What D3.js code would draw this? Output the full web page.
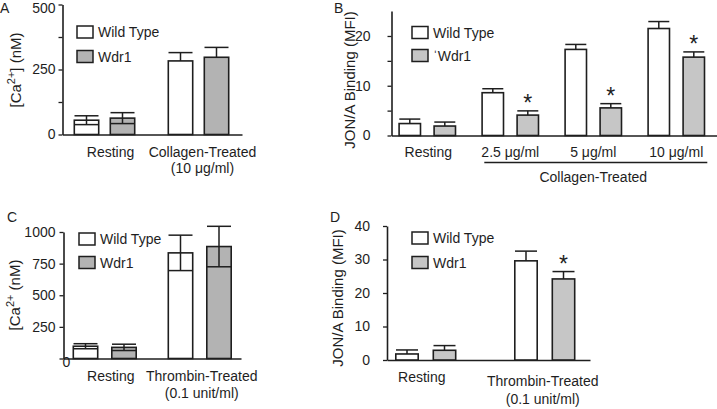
<!DOCTYPE html>
<html><head><meta charset="utf-8">
<script src="https://cdn.jsdelivr.net/npm/d3@7"></script>
<style>
html,body{margin:0;padding:0;background:#fff;}
svg{display:block;font-family:"Liberation Sans",Arial,sans-serif;}
</style></head><body>
<svg id="chart" width="717" height="409"></svg>
<script>
// ---------------- DATA ----------------
const seriesKeys = ["wt", "wdr1"];
const legendA = ["Wild Type", "Wdr1"];
const legendB = ["Wild Type", "ˈWdr1"];

// Panel A : [Ca2+] (nM), collagen
const categoriesA = ["Resting", "Collagen-Treated"];
const subLabelsA = ["", "(10 μg/ml)"];
const wildTypeA = [55, 283];
const wildTypeErrA = [17, 32];
const wdr1A = [63, 297];
const wdr1ErrA = [21, 38];
const lowerWhiskerA = [true, false];
const sigA = [false, false];
const yTicksA = [0, 125, 250, 375, 500];
const yLabelTicksA = [0, 250, 500];

// Panel B : JON/A binding (MFI), collagen doses
const categoriesB = ["Resting", "2.5 μg/ml", "5 μg/ml", "10 μg/ml"];
const wildTypeB = [2.4, 8.6, 17.3, 21.5];
const wildTypeErrB = [0.9, 0.8, 1.0, 1.4];
const wdr1B = [1.9, 4.1, 5.55, 15.75];
const wdr1ErrB = [0.8, 0.85, 0.85, 1.05];
const lowerWhiskerB = [false, false, false, false];
const sigB = [false, true, true, true];
const yTicksB = [0, 5, 10, 15, 20];
const yLabelTicksB = [0, 10, 20];
const groupLabelB = "Collagen-Treated";

// Panel C : [Ca2+] (nM), thrombin
const categoriesC = ["Resting", "Thrombin-Treated"];
const subLabelsC = ["", "(0.1 unit/ml)"];
const wildTypeC = [97, 835];
const wildTypeErrC = [20, 140];
const wdr1C = [88, 885];
const wdr1ErrC = [25, 160];
const lowerWhiskerC = [true, true];
const sigC = [false, false];
const yTicksC = [0, 250, 500, 750, 1000];
const yLabelTicksC = [0, 250, 500, 750, 1000];

// Panel D : JON/A binding (MFI), thrombin
const categoriesD = ["Resting", "Thrombin-Treated"];
const subLabelsD = ["", "(0.1 unit/ml)"];
const wildTypeD = [1.8, 29.6];
const wildTypeErrD = [1.2, 2.9];
const wdr1D = [2.9, 24.2];
const wdr1ErrD = [1.4, 2.2];
const lowerWhiskerD = [false, false];
const sigD = [false, true];
const yTicksD = [0, 10, 20, 30, 40];
const yLabelTicksD = [0, 10, 20, 30, 40];

// ---------------- DRAWING ----------------
const svg = d3.select("#chart");
const INK = "#1e1e1e";
const FONT = 14;

function drawPanel(c) {
  const g = svg.append("g");
  const y = d3.scaleLinear().domain(c.yDomain).range([c.y0, c.y1]);

  const n = c.cats.length;
  const bandW = c.offset + c.barW;
  const total = c.xEnd - c.xStart;
  const pi = (c.step - bandW) / c.step;
  const po = (total / c.step - n + pi) / 2;
  const align = (c.firstBar - c.xStart) / (total - c.step * (n - pi));
  const x = d3.scaleBand().domain(c.cats).range([c.xStart, c.xEnd])
    .paddingInner(pi).paddingOuter(po).align(align);
  const xi = d3.scaleBand().domain(seriesKeys).range([0, bandW])
    .paddingInner(1 - c.barW / c.offset).paddingOuter(0);

  // x axis (baseline)
  const xa = g.append("g").attr("transform", `translate(0,${y(0)})`)
    .call(d3.axisBottom(x).tickSize(0).tickSizeOuter(0).tickFormat(""));
  xa.select(".domain").attr("stroke", INK).attr("stroke-width", 1.6);

  // y axis
  const ya = g.append("g").attr("transform", `translate(${c.xStart},0)`)
    .call(d3.axisLeft(y).tickValues(c.ticks).tickSize(4).tickSizeOuter(0)
      .tickPadding(c.tickPad)
      .tickFormat(d => c.labelTicks.includes(d) ? d : ""));
  ya.select(".domain").attr("stroke", INK).attr("stroke-width", 1.6);
  ya.selectAll(".tick line").attr("stroke", INK).attr("stroke-width", 1.3);
  ya.selectAll(".tick text").attr("fill", INK).attr("font-size", FONT)
    .attr("font-family", "Liberation Sans, Arial, sans-serif");
  if (c.topLabelDy) {
    const top = c.yDomain[1];
    ya.selectAll(".tick").filter(d => d === top).select("text").attr("dy", c.topLabelDy);
  }
  if (c.zeroShift) {
    ya.selectAll(".tick").filter(d => d === 0).select("text")
      .attr("text-anchor", "start").attr("x", c.zeroShift[0]).attr("dy", c.zeroShift[1]);
  }

  // bars
  const rows = c.cats.map((cat, i) => ([
    {cat, i, key: "wt", v: c.wt[i], e: c.wtErr[i], lower: c.lower[i], sig: false},
    {cat, i, key: "wdr1", v: c.wdr1[i], e: c.wdr1Err[i], lower: c.lower[i], sig: c.sig[i]}
  ])).flat();

  const sw = 1.6;
  g.selectAll("rect.bar").data(rows).join("rect").attr("class", "bar")
    .attr("x", d => x(d.cat) + xi(d.key) + sw / 2)
    .attr("width", xi.bandwidth() - sw)
    .attr("y", d => y(d.v))
    .attr("height", d => y(0) - y(d.v))
    .attr("fill", d => d.key === "wt" ? "#fff" : c.gray)
    .attr("stroke", INK).attr("stroke-width", sw);

  const capW = c.barW - 2;
  const eg = g.selectAll("g.err").data(rows).join("g").attr("class", "err")
    .attr("stroke", INK).attr("stroke-width", 1.5);
  eg.append("line")
    .attr("x1", d => x(d.cat) + xi(d.key) + c.barW / 2)
    .attr("x2", d => x(d.cat) + xi(d.key) + c.barW / 2)
    .attr("y1", d => y(d.v + d.e))
    .attr("y2", d => d.lower ? y(d.v - d.e) : y(d.v));
  eg.append("line")
    .attr("x1", d => x(d.cat) + xi(d.key) + c.barW / 2 - capW / 2)
    .attr("x2", d => x(d.cat) + xi(d.key) + c.barW / 2 + capW / 2)
    .attr("y1", d => y(d.v + d.e)).attr("y2", d => y(d.v + d.e));
  eg.filter(d => d.lower).append("line")
    .attr("x1", d => x(d.cat) + xi(d.key) + c.barW / 2 - capW / 2)
    .attr("x2", d => x(d.cat) + xi(d.key) + c.barW / 2 + capW / 2)
    .attr("y1", d => y(d.v - d.e)).attr("y2", d => y(d.v - d.e));

  // significance stars
  g.selectAll("text.star").data(rows.filter(d => d.sig)).join("text").attr("class", "star")
    .attr("x", d => x(d.cat) + xi(d.key) + c.barW / 2)
    .attr("y", d => y(d.v + d.e) + 0.5)
    .attr("text-anchor", "middle").attr("font-size", 23).attr("fill", INK)
    .text("*");

  // category labels
  g.selectAll("text.cat").data(c.cats).join("text").attr("class", "cat")
    .attr("x", (d, i) => x(d) + x.bandwidth() / 2 + c.labelDx[i])
    .attr("y", (d, i) => c.labelY[i])
    .attr("text-anchor", "middle").attr("font-size", FONT).attr("fill", INK)
    .text(d => d);
  if (c.subLabels) {
    g.selectAll("text.sub").data(c.subLabels).join("text").attr("class", "sub")
      .attr("x", (d, i) => x(c.cats[i]) + x.bandwidth() / 2 + c.labelDx[i])
      .attr("y", c.subY)
      .attr("text-anchor", "middle").attr("font-size", FONT).attr("fill", INK)
      .text(d => d);
  }

  // legend
  const lg = g.append("g");
  c.legend.forEach((name, k) => {
    lg.append("rect").attr("x", c.legX).attr("y", c.legY + k * c.legGap)
      .attr("width", 16).attr("height", 12)
      .attr("fill", k === 0 ? "#fff" : c.gray).attr("stroke", INK).attr("stroke-width", 1.5);
    lg.append("text").attr("x", c.legX + 21).attr("y", c.legY + k * c.legGap + 11)
      .attr("font-size", FONT).attr("fill", INK).text(name);
  });

  // y title
  const t = g.append("text")
    .attr("transform", `translate(${c.titleX},${c.titleY}) rotate(-90)`)
    .attr("text-anchor", "middle").attr("font-size", 15).attr("fill", INK);
  c.title.forEach(p => {
    const ts = t.append("tspan").text(p.t);
    if (p.sup) ts.attr("font-size", 11).attr("dy", -6);
    if (p.after) ts.attr("dy", 6);
  });

  // panel letter
  g.append("text").attr("x", c.letterX).attr("y", c.letterY)
    .attr("font-size", 14).attr("fill", INK).text(c.letter);

  return {x, xi, y, g};
}

const caTitleA = [{t: "[Ca"}, {t: "2+", sup: true}, {t: "] (nM)", after: true}];
const caTitleC = [{t: "[Ca"}, {t: "2+", sup: true}, {t: " (nM)", after: true}];
const jonTitle = [{t: "JON/A Binding (MFI)"}];

// Panel A
drawPanel({
  letter: "A", letterX: 0, letterY: 13,
  cats: categoriesA, subLabels: subLabelsA, wt: wildTypeA, wtErr: wildTypeErrA,
  wdr1: wdr1A, wdr1Err: wdr1ErrA, lower: lowerWhiskerA, sig: sigA,
  yDomain: [0, 500], y0: 134.5, y1: 4.5, ticks: yTicksA, labelTicks: yLabelTicksA, tickPad: 3,
  topLabelDy: "0.6em",
  xStart: 62.5, xEnd: 242, firstBar: 73.5, barW: 26, offset: 36, step: 94,
  gray: "#b3b3b3", legend: legendA, legX: 77, legY: 26, legGap: 24.5,
  labelDx: [6, 4], labelY: [157, 157], subY: 173,
  title: caTitleA, titleX: 21, titleY: 70
});

// Panel B
const pB = drawPanel({
  letter: "B", letterX: 334, letterY: 13,
  cats: categoriesB, wt: wildTypeB, wtErr: wildTypeErrB,
  wdr1: wdr1B, wdr1Err: wdr1ErrB, lower: lowerWhiskerB, sig: sigB,
  yDomain: [0, 25], y0: 135.5, y1: 11.1, ticks: yTicksB, labelTicks: yLabelTicksB, tickPad: 17,
  xStart: 391.5, xEnd: 717, firstBar: 398.3, barW: 23, offset: 35, step: 83,
  gray: "#c6c6c6", legend: legendB, legX: 412, legY: 26.5, legGap: 23,
  labelDx: [1, 0, 0, 0], labelY: [157, 157, 157, 157],
  title: jonTitle, titleX: 355, titleY: 80
});
pB.g.append("line").attr("x1", pB.x(categoriesB[1]) + 3).attr("x2", pB.x(categoriesB[3]) + pB.x.bandwidth() + 2)
  .attr("y1", 162.5).attr("y2", 162.5).attr("stroke", INK).attr("stroke-width", 1.3);
pB.g.append("text")
  .attr("x", (pB.x(categoriesB[1]) + pB.x(categoriesB[3]) + pB.x.bandwidth()) / 2)
  .attr("y", 182).attr("text-anchor", "middle").attr("font-size", FONT).attr("fill", INK)
  .text(groupLabelB);

// Panel C
drawPanel({
  letter: "C", letterX: 7, letterY: 222,
  cats: categoriesC, subLabels: subLabelsC, wt: wildTypeC, wtErr: wildTypeErrC,
  wdr1: wdr1C, wdr1Err: wdr1ErrC, lower: lowerWhiskerC, sig: sigC,
  yDomain: [0, 1000], y0: 358.5, y1: 232, ticks: yTicksC, labelTicks: yLabelTicksC, tickPad: 4,
  xStart: 63.5, xEnd: 241, firstBar: 72.5, barW: 26, offset: 38.5, step: 95,
  gray: "#b3b3b3", legend: legendA, legX: 79, legY: 233, legGap: 23.5,
  labelDx: [6, 2], labelY: [381, 381], subY: 398,
  title: caTitleC, titleX: 20, titleY: 295,
  zeroShift: [-1, "0.57em"]
});

// Panel D
drawPanel({
  letter: "D", letterX: 330, letterY: 222,
  cats: categoriesD, subLabels: subLabelsD, wt: wildTypeD, wtErr: wildTypeErrD,
  wdr1: wdr1D, wdr1Err: wdr1ErrD, lower: lowerWhiskerD, sig: sigD,
  yDomain: [0, 40], y0: 360, y1: 226, ticks: yTicksD, labelTicks: yLabelTicksD, tickPad: 13,
  xStart: 387, xEnd: 590, firstBar: 395, barW: 24, offset: 37.5, step: 119,
  gray: "#c6c6c6", legend: legendA, legX: 412, legY: 232, legGap: 24.5,
  labelDx: [-4, -2], labelY: [382, 386], subY: 404,
  title: jonTitle, titleX: 343, titleY: 298
});
</script>
</body></html>
